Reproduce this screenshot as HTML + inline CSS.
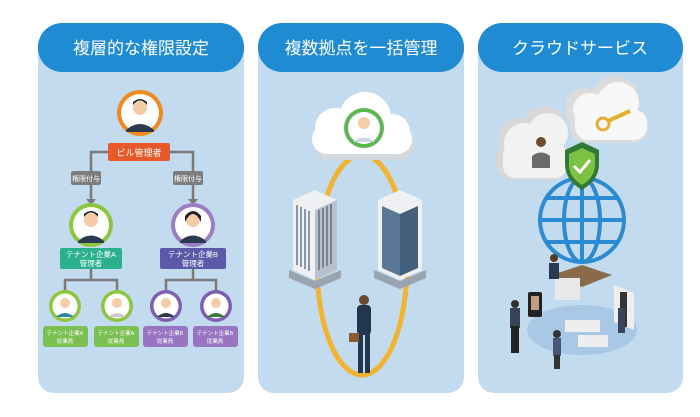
<!DOCTYPE html>
<html><head><meta charset="utf-8"><style>
html,body{margin:0;padding:0;background:#fff;width:700px;height:417px;overflow:hidden}
svg{display:block}
text{font-family:"Liberation Sans","Noto Sans CJK JP",sans-serif}
</style></head><body>
<svg width="700" height="417" viewBox="0 0 700 417">
<g fill="#c3dbee">
<rect x="38" y="30" width="206" height="363" rx="16"/>
<rect x="258" y="30" width="206" height="363" rx="16"/>
<rect x="478" y="30" width="205" height="363" rx="16"/>
</g>
<g fill="#1f8bd2">
<rect x="38" y="23" width="206" height="49" rx="24"/>
<rect x="258" y="23" width="206" height="49" rx="24"/>
<rect x="478" y="23" width="205" height="49" rx="24"/>
</g>
<g fill="#fff" font-size="17" text-anchor="middle">
<text x="141" y="54">複層的な権限設定</text>
<text x="361" y="54">複数拠点を一括管理</text>
<text x="580" y="54">クラウドサービス</text>
</g>

<g stroke="#7a7a7a" stroke-width="2.5" fill="none">
<path d="M108 152 H91 V205"/><path d="M170 152 H193 V205"/>
<path d="M91 268 V280 H65 V292 M91 280 H117 V292"/>
<path d="M193 268 V280 H166 V292 M193 280 H216 V292"/>
</g>
<g fill="#7a7a7a"><path d="M86 199 h10 l-5 6z"/><path d="M188 199 h10 l-5 6z"/></g>
<rect x="71" y="171" width="30" height="14" rx="2" fill="#7d7d7d"/>
<rect x="173" y="171" width="30" height="14" rx="2" fill="#7d7d7d"/>
<g fill="#fff" font-size="7" text-anchor="middle"><text x="86" y="181">権限付与</text><text x="188" y="181">権限付与</text></g>

<g>
<circle cx="140" cy="113" r="23" fill="#ef8a1f"/><circle cx="140" cy="113" r="19" fill="#fff"/>
<path d="M126 130 q14-12 28 0 v2 h-28z" fill="#2b3a4e"/><circle cx="140" cy="108" r="7" fill="#f5cba8"/><path d="M133 105 q7-9 14 0 v-3 q-7-6-14 0z" fill="#222"/>
<circle cx="91" cy="225" r="22" fill="#8cc63e"/><circle cx="91" cy="225" r="18" fill="#fff"/>
<path d="M78 241 q13-11 26 0 v2 h-26z" fill="#2b3a4e"/><circle cx="91" cy="220" r="7" fill="#f5cba8"/><path d="M84 217 q7-9 14 0 v-3 q-7-6-14 0z" fill="#222"/>
<circle cx="193" cy="225" r="22" fill="#9b7fc2"/><circle cx="193" cy="225" r="18" fill="#fff"/>
<path d="M180 241 q13-11 26 0 v2 h-26z" fill="#2b3a4e"/><circle cx="193" cy="220" r="7" fill="#f5cba8"/><path d="M185 222 q8-16 16 0 v-6 q-8-10-16 0z" fill="#222"/>
</g>
<g>
<circle cx="65" cy="306" r="16" fill="#8cc63e"/><circle cx="65" cy="306" r="12.5" fill="#fff"/><circle cx="65" cy="303" r="5" fill="#f5cba8"/><path d="M56 317 q9-8 18 0z" fill="#2a8a9a"/>
<circle cx="117" cy="306" r="16" fill="#8cc63e"/><circle cx="117" cy="306" r="12.5" fill="#fff"/><circle cx="117" cy="303" r="5" fill="#f5cba8"/><path d="M108 317 q9-8 18 0z" fill="#ccc"/>
<circle cx="166" cy="306" r="16" fill="#7c5fb0"/><circle cx="166" cy="306" r="12.5" fill="#fff"/><circle cx="166" cy="303" r="5" fill="#f5cba8"/><path d="M157 317 q9-8 18 0z" fill="#2b3a4e"/>
<circle cx="216" cy="306" r="16" fill="#7c5fb0"/><circle cx="216" cy="306" r="12.5" fill="#fff"/><circle cx="216" cy="303" r="5" fill="#f5cba8"/><path d="M207 317 q9-8 18 0z" fill="#3a7a3a"/>
</g>
<rect x="108" y="143" width="62" height="18" rx="2" fill="#e5592a"/>
<text x="139" y="156" font-size="9" fill="#fff" text-anchor="middle">ビル管理者</text>
<rect x="60" y="248" width="62" height="21" rx="2" fill="#2bb08e"/>
<rect x="160" y="248" width="66" height="21" rx="2" fill="#5c5aa8"/>
<g fill="#fff" font-size="7.5" text-anchor="middle">
<text x="91" y="257">テナント企業A</text><text x="91" y="266">管理者</text>
<text x="193" y="257">テナント企業B</text><text x="193" y="266">管理者</text>
</g>
<rect x="43" y="326" width="45" height="21" rx="3" fill="#7cbf52"/>
<rect x="94" y="326" width="45" height="21" rx="3" fill="#7cbf52"/>
<rect x="143" y="326" width="45" height="21" rx="3" fill="#9775c1"/>
<rect x="193" y="326" width="45" height="21" rx="3" fill="#9775c1"/>
<g fill="#fff" font-size="5.5" text-anchor="middle">
<text x="65" y="335">テナント企業A</text><text x="65" y="343">従業員</text>
<text x="116" y="335">テナント企業A</text><text x="116" y="343">従業員</text>
<text x="165" y="335">テナント企業B</text><text x="165" y="343">従業員</text>
<text x="215" y="335">テナント企業B</text><text x="215" y="343">従業員</text>
</g>

<ellipse cx="362" cy="265" rx="45" ry="110" fill="none" stroke="#f2b330" stroke-width="5"/>
<rect x="314" y="128" width="100" height="32" rx="15" fill="#d5d8dc"/>
<g fill="#fff"><circle cx="335" cy="128" r="20"/><circle cx="365" cy="118" r="26"/><circle cx="392" cy="132" r="18"/><rect x="312" y="124" width="100" height="30" rx="15"/></g>
<circle cx="364" cy="128" r="20" fill="#5fb454"/><circle cx="364" cy="128" r="16" fill="#fff"/>
<circle cx="364" cy="123" r="6" fill="#f5cba8"/><path d="M353 142 q11-9 22 0z" fill="#cfd6dc"/>
<g>
<path d="M293 200 l22-10 l22 10 v70 l-22 10 l-22-10z" fill="#eef0f3"/>
<path d="M315 210 l22-10 v70 l-22 10z" fill="#b9c2cc"/>
<g stroke="#4a5a70" stroke-width="1.2"><path d="M297 205v60M301 207v60M305 209v60M309 211v60M319 210v60M323 208v60M327 206v60M331 204v60"/></g>
<path d="M289 270 l26 11 l26-11 v8 l-26 11 l-26-11z" fill="#9aa4b0"/>
<path d="M378 200 l22-10 l22 10 v70 l-22 10 l-22-10z" fill="#eef0f3"/>
<path d="M382 206 l18 8 v62 l-18-8z" fill="#5a7896"/><path d="M400 214 l18-8 v62 l-18 8z" fill="#445f7c"/>
<path d="M374 270 l26 11 l26-11 v8 l-26 11 l-26-11z" fill="#9aa4b0"/>
</g>
<g fill="#243550"><rect x="357" y="305" width="14" height="30" rx="4"/><rect x="358" y="333" width="5" height="40"/><rect x="365" y="333" width="5" height="40"/></g>
<circle cx="364" cy="300" r="5" fill="#6b4a2e"/><rect x="349" y="333" width="10" height="9" fill="#8a5a30"/>

<g fill="#d8d8d8"><circle cx="520" cy="140" r="22"/><circle cx="545" cy="128" r="22"/><rect x="497" y="140" width="70" height="40" rx="14"/></g>
<g fill="#f2f2f2"><circle cx="524" cy="143" r="20"/><circle cx="548" cy="133" r="20"/><rect x="503" y="143" width="64" height="35" rx="12"/></g>
<g fill="#dcdcdc"><circle cx="585" cy="108" r="20"/><circle cx="615" cy="100" r="24"/><rect x="570" y="108" width="78" height="35" rx="15"/></g>
<g fill="#f7f7f7"><circle cx="590" cy="110" r="17"/><circle cx="618" cy="103" r="21"/><rect x="575" y="110" width="72" height="30" rx="13"/></g>
<circle cx="541" cy="142" r="5" fill="#6b4a2e"/><path d="M532 168 v-12 q9-7 18 0 v12z" fill="#6b6b6b"/>
<circle cx="603" cy="124" r="6" fill="none" stroke="#e0b030" stroke-width="3"/><path d="M608 121 l22-10" stroke="#e0b030" stroke-width="4"/>
<circle cx="582" cy="220" r="42" fill="none" stroke="#2a8bd2" stroke-width="4"/>
<ellipse cx="582" cy="220" rx="18" ry="42" fill="none" stroke="#2a8bd2" stroke-width="4"/>
<g stroke="#2a8bd2" stroke-width="4"><path d="M582 178v84M540 220h84M546 198h72M546 242h72"/></g>
<path d="M565 150 l17-8 l17 8 v14 q0 16-17 26 q-17-10-17-26z" fill="#2f7a34"/>
<path d="M569 154 l13-6 l13 6 v11 q0 12-13 20 q-13-8-13-20z" fill="#7cc242"/>
<path d="M574 166 l6 6 l10-12" stroke="#fff" stroke-width="3" fill="none"/>
<ellipse cx="582" cy="330" rx="55" ry="25" fill="#a8c8e6"/>
<path d="M552 275 l30-10 l30 10 l-30 12z" fill="#8a6a48"/><rect x="555" y="278" width="25" height="22" fill="#e8e8e8"/>
<rect x="549" y="263" width="10" height="16" fill="#2a3a55"/><circle cx="554" cy="258" r="4" fill="#5a3a20"/>
<rect x="528" y="292" width="14" height="25" rx="2" fill="#222"/><rect x="531" y="296" width="8" height="14" fill="#c0a080"/>
<rect x="510" y="308" width="10" height="20" fill="#3a4458"/><rect x="511" y="326" width="8" height="27" fill="#222"/><circle cx="515" cy="304" r="4" fill="#333"/>
<path d="M614 285 l20 8 v37 l-20-8z" fill="#eee"/><rect x="620" y="292" width="7" height="35" fill="#333"/>
<rect x="618" y="308" width="7" height="25" fill="#3a4458"/>
<rect x="565" y="320" width="35" height="12" fill="#eee"/><rect x="578" y="335" width="30" height="12" fill="#eee"/>
<rect x="553" y="338" width="8" height="18" fill="#4a5678"/><rect x="554" y="355" width="6" height="14" fill="#333"/><circle cx="557" cy="334" r="4" fill="#333"/>
</svg>
</body></html>
